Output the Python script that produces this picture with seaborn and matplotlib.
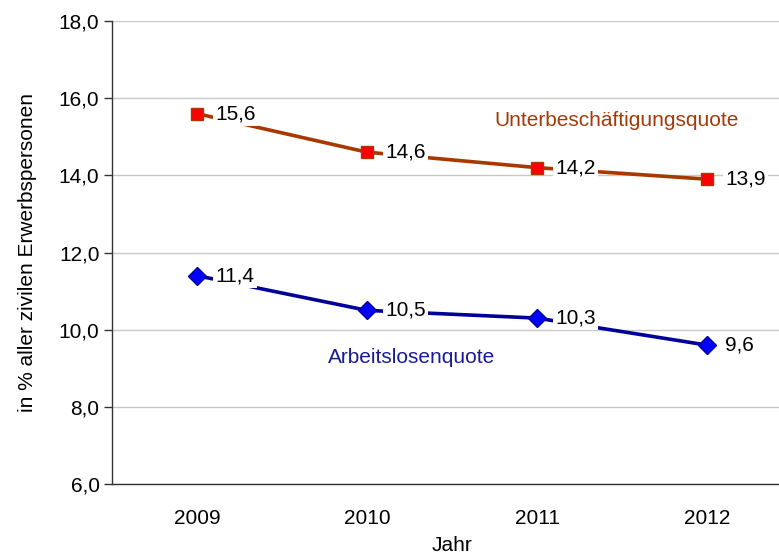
import matplotlib
matplotlib.use("Agg")
import matplotlib.pyplot as plt
import seaborn as sns
import pandas as pd

# data
jahre = ["2009", "2010", "2011", "2012"]
unterbeschaeftigung = [15.6, 14.6, 14.2, 13.9]
arbeitslosen = [11.4, 10.5, 10.3, 9.6]

sns.set_style("white")
plt.rcParams["font.family"] = ["Liberation Sans", "DejaVu Sans"]
fs = 15

fig = plt.figure(figsize=(7.79, 5.56), dpi=100)
# plot area runs past the right edge like in the reference
ax = fig.add_axes([112 / 779, 1 - 484 / 556, 680 / 779, 463 / 556])

df = pd.DataFrame({"pos": range(len(jahre)), "ub": unterbeschaeftigung, "al": arbeitslosen})

ub_line = "#A83800"
al_line = "#000099"
sns.lineplot(data=df, x="pos", y="ub", ax=ax, color=ub_line, linewidth=2.6,
             marker="s", markersize=8, markerfacecolor="#FF0000",
             markeredgecolor=ub_line, markeredgewidth=1.0, zorder=3)
sns.lineplot(data=df, x="pos", y="al", ax=ax, color=al_line, linewidth=2.6,
             marker="D", markersize=9, markerfacecolor="#0000FF",
             markeredgecolor=al_line, markeredgewidth=1.0, zorder=3)

# data labels with white boxes, placed right of the markers
for i in range(len(jahre)):
    for vals in (unterbeschaeftigung, arbeitslosen):
        ax.annotate(f"{vals[i]:.1f}".replace(".", ","), (i, vals[i]),
                    xytext=(13, 0), textcoords="offset points", ha="left", va="center",
                    fontsize=fs, color="black", zorder=4,
                    bbox=dict(boxstyle="square,pad=0.12", fc="white", ec="none"))

ax.text(2.47, 15.43, "Unterbeschäftigungsquote", color="#A33A0A", fontsize=fs,
        ha="center", va="center")
ax.text(1.26, 9.29, "Arbeitslosenquote", color="#1A1A99", fontsize=fs,
        ha="center", va="center")

ax.set_xlim(-0.5, 3.5)
ax.set_ylim(6, 18)
ax.set_yticks(range(6, 19, 2))
ax.set_yticklabels([f"{v},0" for v in range(6, 19, 2)], fontsize=fs, color="black")
ax.set_xticks(range(len(jahre)))
ax.set_xticklabels(jahre, fontsize=fs, color="black")
ax.set_xticks([-0.5, 0.5, 1.5, 2.5, 3.5], minor=True)
ax.tick_params(axis="x", which="major", length=0, pad=18)
ax.tick_params(axis="x", which="minor", length=6, width=1, color="#333333", direction="out")
ax.tick_params(axis="y", length=6, width=1, color="#333333", direction="out", left=True, pad=3)

ax.grid(axis="y", color="#C8C8C8", linewidth=1)
ax.set_axisbelow(True)
for side in ("top", "right"):
    ax.spines[side].set_visible(False)
for side in ("left", "bottom"):
    ax.spines[side].set_color("#333333")
    ax.spines[side].set_linewidth(1)

ax.set_xlabel("Jahr", fontsize=fs, labelpad=6, color="black")
ax.set_ylabel("in % aller zivilen Erwerbspersonen", fontsize=fs, labelpad=16, color="black")

fig.savefig("out.png", dpi=100)
